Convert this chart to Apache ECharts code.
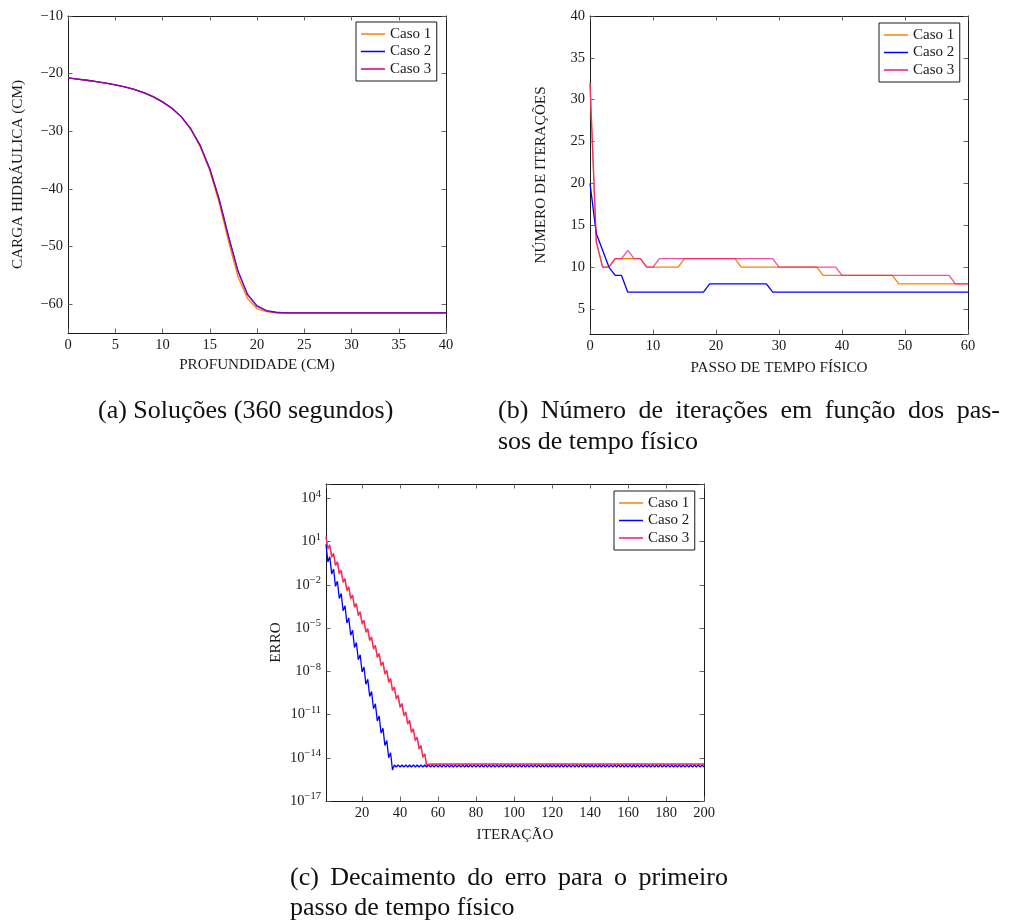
<!DOCTYPE html>
<html lang="pt">
<head>
<meta charset="utf-8">
<title>Resultados numéricos</title>
<script src="https://cdn.jsdelivr.net/npm/echarts@6.0.0/dist/echarts.min.js"></script>
<style>
  html, body { margin: 0; padding: 0; background: #ffffff; }
  #grafico { width: 1014px; height: 923px; }
</style>
</head>
<body>
<div id="grafico"></div>
<script>
// ---------- (a) Soluções: carga hidráulica ao longo da profundidade ----------
const profundidade = [0,1,2,3,4,5,6,7,8,9,10,11,12,13,14,15,16,17,18,19,20,
  21,22,23,24,25,26,27,28,29,30,31,32,33,34,35,36,37,38,39,40];
const cargaCaso1 = [-20.75,-20.95,-21.15,-21.4,-21.65,-21.95,-22.3,-22.75,-23.3,-24.0,
  -24.9,-26.0,-27.5,-29.7,-32.7,-36.8,-42.4,-49.2,-55.3,-59.0,
  -60.8,-61.3,-61.5,-61.5,-61.5,-61.5,-61.5,-61.5,-61.5,-61.5,
  -61.5,-61.5,-61.5,-61.5,-61.5,-61.5,-61.5,-61.5,-61.5,-61.5,
  -61.5];
const cargaCaso2 = [-20.75,-20.95,-21.15,-21.4,-21.65,-21.95,-22.3,-22.75,-23.3,-24.0,
  -24.9,-26.0,-27.5,-29.6,-32.5,-36.5,-41.8,-48.3,-54.3,-58.3,
  -60.3,-61.1,-61.4,-61.5,-61.5,-61.5,-61.5,-61.5,-61.5,-61.5,
  -61.5,-61.5,-61.5,-61.5,-61.5,-61.5,-61.5,-61.5,-61.5,-61.5,
  -61.5];
const cargaCaso3 = [-20.75,-20.95,-21.15,-21.4,-21.65,-21.95,-22.3,-22.75,-23.3,-24.0,
  -24.9,-26.0,-27.5,-29.6,-32.5,-36.5,-41.9,-48.4,-54.4,-58.4,
  -60.4,-61.15,-61.45,-61.5,-61.5,-61.5,-61.5,-61.5,-61.5,-61.5,
  -61.5,-61.5,-61.5,-61.5,-61.5,-61.5,-61.5,-61.5,-61.5,-61.5,
  -61.5];

// ---------- (b) Número de iterações por passo de tempo físico ----------
const passos = [0,1,2,3,4,5,6,7,8,9,10,11,12,13,14,15,16,17,18,19,20,
  21,22,23,24,25,26,27,28,29,30,31,32,33,34,35,36,37,38,39,40,
  41,42,43,44,45,46,47,48,49,50,51,52,53,54,55,56,57,58,59,60];
const iterCaso1 = [32,13,10,10,11,11,11,11,11,10,
  10,10,10,10,10,11,11,11,11,11,
  11,11,11,11,10,10,10,10,10,10,
  10,10,10,10,10,10,10,9,9,9,
  9,9,9,9,9,9,9,9,9,8,
  8,8,8,8,8,8,8,8,8,8,
  8];
const iterCaso2 = [20,14,12,10,9,9,7,7,7,7,
  7,7,7,7,7,7,7,7,7,8,
  8,8,8,8,8,8,8,8,8,7,
  7,7,7,7,7,7,7,7,7,7,
  7,7,7,7,7,7,7,7,7,7,
  7,7,7,7,7,7,7,7,7,7,
  7];
const iterCaso3 = [32,13,10,10,11,11,12,11,11,10,
  10,11,11,11,11,11,11,11,11,11,
  11,11,11,11,11,11,11,11,11,11,
  10,10,10,10,10,10,10,10,10,10,
  9,9,9,9,9,9,9,9,9,9,
  9,9,9,9,9,9,9,9,8,8,
  8];

// ---------- (c) Decaimento do erro no primeiro passo de tempo ----------
// expoentes (log10) do erro em cada iteração 1..200
const expErroCaso1 = [1.30,0.47,0.71,-0.11,0.13,-0.69,-0.45,-1.27,-1.03,-1.85,
  -1.61,-2.43,-2.18,-3.00,-2.76,-3.58,-3.34,-4.16,-3.92,-4.74,
  -4.50,-5.32,-5.08,-5.90,-5.66,-6.48,-6.24,-7.06,-6.82,-7.64,
  -7.40,-8.22,-7.97,-8.79,-8.55,-9.37,-9.13,-9.95,-9.71,-10.53,
  -10.29,-11.11,-10.87,-11.69,-11.45,-12.27,-12.03,-12.85,-12.61,-13.43,
  -13.19,-14.01,-13.77,-14.59,-14.42,-14.46,-14.42,-14.46,-14.42,-14.46,
  -14.42,-14.46,-14.42,-14.46,-14.42,-14.46,-14.42,-14.46,-14.42,-14.46,
  -14.42,-14.46,-14.42,-14.46,-14.42,-14.46,-14.42,-14.46,-14.42,-14.46,
  -14.42,-14.46,-14.42,-14.46,-14.42,-14.46,-14.42,-14.46,-14.42,-14.46,
  -14.42,-14.46,-14.42,-14.46,-14.42,-14.46,-14.42,-14.46,-14.42,-14.46,
  -14.42,-14.46,-14.42,-14.46,-14.42,-14.46,-14.42,-14.46,-14.42,-14.46,
  -14.42,-14.46,-14.42,-14.46,-14.42,-14.46,-14.42,-14.46,-14.42,-14.46,
  -14.42,-14.46,-14.42,-14.46,-14.42,-14.46,-14.42,-14.46,-14.42,-14.46,
  -14.42,-14.46,-14.42,-14.46,-14.42,-14.46,-14.42,-14.46,-14.42,-14.46,
  -14.42,-14.46,-14.42,-14.46,-14.42,-14.46,-14.42,-14.46,-14.42,-14.46,
  -14.42,-14.46,-14.42,-14.46,-14.42,-14.46,-14.42,-14.46,-14.42,-14.46,
  -14.42,-14.46,-14.42,-14.46,-14.42,-14.46,-14.42,-14.46,-14.42,-14.46,
  -14.42,-14.46,-14.42,-14.46,-14.42,-14.46,-14.42,-14.46,-14.42,-14.46,
  -14.42,-14.46,-14.42,-14.46,-14.42,-14.46,-14.42,-14.46,-14.42,-14.46,
  -14.42,-14.46,-14.42,-14.46,-14.42,-14.46,-14.42,-14.46,-14.42,-14.46];
const expErroCaso2 = [0.80,-0.40,-0.05,-1.25,-0.90,-2.10,-1.75,-2.95,-2.60,-3.80,
  -3.45,-4.65,-4.30,-5.50,-5.15,-6.35,-6.00,-7.20,-6.85,-8.05,
  -7.70,-8.90,-8.55,-9.75,-9.40,-10.60,-10.25,-11.45,-11.10,-12.30,
  -11.95,-13.15,-12.80,-14.00,-13.65,-14.85,-14.50,-14.64,-14.50,-14.64,
  -14.50,-14.64,-14.50,-14.64,-14.50,-14.64,-14.50,-14.64,-14.50,-14.64,
  -14.50,-14.64,-14.50,-14.64,-14.50,-14.64,-14.50,-14.64,-14.50,-14.64,
  -14.50,-14.64,-14.50,-14.64,-14.50,-14.64,-14.50,-14.64,-14.50,-14.64,
  -14.50,-14.64,-14.50,-14.64,-14.50,-14.64,-14.50,-14.64,-14.50,-14.64,
  -14.50,-14.64,-14.50,-14.64,-14.50,-14.64,-14.50,-14.64,-14.50,-14.64,
  -14.50,-14.64,-14.50,-14.64,-14.50,-14.64,-14.50,-14.64,-14.50,-14.64,
  -14.50,-14.64,-14.50,-14.64,-14.50,-14.64,-14.50,-14.64,-14.50,-14.64,
  -14.50,-14.64,-14.50,-14.64,-14.50,-14.64,-14.50,-14.64,-14.50,-14.64,
  -14.50,-14.64,-14.50,-14.64,-14.50,-14.64,-14.50,-14.64,-14.50,-14.64,
  -14.50,-14.64,-14.50,-14.64,-14.50,-14.64,-14.50,-14.64,-14.50,-14.64,
  -14.50,-14.64,-14.50,-14.64,-14.50,-14.64,-14.50,-14.64,-14.50,-14.64,
  -14.50,-14.64,-14.50,-14.64,-14.50,-14.64,-14.50,-14.64,-14.50,-14.64,
  -14.50,-14.64,-14.50,-14.64,-14.50,-14.64,-14.50,-14.64,-14.50,-14.64,
  -14.50,-14.64,-14.50,-14.64,-14.50,-14.64,-14.50,-14.64,-14.50,-14.64,
  -14.50,-14.64,-14.50,-14.64,-14.50,-14.64,-14.50,-14.64,-14.50,-14.64,
  -14.50,-14.64,-14.50,-14.64,-14.50,-14.64,-14.50,-14.64,-14.50,-14.64];
const expErroCaso3 = [1.35,0.55,0.77,-0.03,0.19,-0.61,-0.39,-1.19,-0.97,-1.77,
  -1.55,-2.35,-2.12,-2.92,-2.70,-3.50,-3.28,-4.08,-3.86,-4.66,
  -4.44,-5.24,-5.02,-5.82,-5.60,-6.40,-6.18,-6.98,-6.76,-7.56,
  -7.34,-8.14,-7.91,-8.71,-8.49,-9.29,-9.07,-9.87,-9.65,-10.45,
  -10.23,-11.03,-10.81,-11.61,-11.39,-12.19,-11.97,-12.77,-12.55,-13.35,
  -13.13,-13.93,-13.71,-14.51,-14.40,-14.44,-14.40,-14.44,-14.40,-14.44,
  -14.40,-14.44,-14.40,-14.44,-14.40,-14.44,-14.40,-14.44,-14.40,-14.44,
  -14.40,-14.44,-14.40,-14.44,-14.40,-14.44,-14.40,-14.44,-14.40,-14.44,
  -14.40,-14.44,-14.40,-14.44,-14.40,-14.44,-14.40,-14.44,-14.40,-14.44,
  -14.40,-14.44,-14.40,-14.44,-14.40,-14.44,-14.40,-14.44,-14.40,-14.44,
  -14.40,-14.44,-14.40,-14.44,-14.40,-14.44,-14.40,-14.44,-14.40,-14.44,
  -14.40,-14.44,-14.40,-14.44,-14.40,-14.44,-14.40,-14.44,-14.40,-14.44,
  -14.40,-14.44,-14.40,-14.44,-14.40,-14.44,-14.40,-14.44,-14.40,-14.44,
  -14.40,-14.44,-14.40,-14.44,-14.40,-14.44,-14.40,-14.44,-14.40,-14.44,
  -14.40,-14.44,-14.40,-14.44,-14.40,-14.44,-14.40,-14.44,-14.40,-14.44,
  -14.40,-14.44,-14.40,-14.44,-14.40,-14.44,-14.40,-14.44,-14.40,-14.44,
  -14.40,-14.44,-14.40,-14.44,-14.40,-14.44,-14.40,-14.44,-14.40,-14.44,
  -14.40,-14.44,-14.40,-14.44,-14.40,-14.44,-14.40,-14.44,-14.40,-14.44,
  -14.40,-14.44,-14.40,-14.44,-14.40,-14.44,-14.40,-14.44,-14.40,-14.44,
  -14.40,-14.44,-14.40,-14.44,-14.40,-14.44,-14.40,-14.44,-14.40,-14.44];
// número da iteração correspondente a cada posição dos vetores acima
const iteracoes = expErroCaso1.map((_, i) => i + 1);

const nomesCasos = ['Caso 1', 'Caso 2', 'Caso 3'];

// ---------- estilo ----------
const FONTE = '"Liberation Serif", "Times New Roman", serif';
const COR_TEXTO = '#1a1a1a';
const COR_MOLDURA = '#1a1a1a';
const COR_TICK = '#555555';
const LARANJA = '#ff8000';
const AZUL = '#0000ff';
const MAGENTA_A = '#cc0088';
const ROSA = '#f0148c';
const TAM_ROTULO = 14.5;
const TAM_NOME = 15.2;

function mesclar(base, extra) {
  const out = Object.assign({}, base);
  for (const k in extra) {
    const v = extra[k];
    if (v && typeof v === 'object' && !Array.isArray(v) && base[k] && typeof base[k] === 'object') {
      out[k] = Object.assign({}, base[k], v);
    } else {
      out[k] = v;
    }
  }
  return out;
}

function baseEixo(gridIndex, position, comRotulos) {
  return {
    type: 'value', gridIndex, position,
    axisLine: { show: true, onZero: false, lineStyle: { color: COR_MOLDURA, width: 1 } },
    axisTick: { show: true, inside: true, length: 4.5, lineStyle: { color: COR_TICK, width: 0.9 } },
    minorTick: { show: false },
    axisLabel: { show: comRotulos, fontFamily: FONTE, fontSize: TAM_ROTULO, color: COR_TEXTO, margin: 5 },
    splitLine: { show: false },
    nameLocation: 'middle',
    nameTextStyle: { fontFamily: FONTE, fontSize: TAM_NOME, color: COR_TEXTO }
  };
}

const comMenos = v => String(v).replace('-', '\u2212');

function potencia(v) {
  const e = Math.round(Math.log10(v));
  if (e > 4) return '';
  return '{b|10}{s|' + (e < 0 ? '\u2212' + (-e) : e) + '}';
}
const richPotencia = {
  b: { fontFamily: FONTE, fontSize: TAM_ROTULO, color: COR_TEXTO },
  s: { fontFamily: FONTE, fontSize: 10.5, color: COR_TEXTO, padding: [0, 0, 9, 0] }
};

const xAxis = [
  mesclar(baseEixo(0, 'bottom', true), { min: 0, max: 40, interval: 5, name: 'PROFUNDIDADE (CM)', nameGap: 25 }),
  mesclar(baseEixo(0, 'top', false), { min: 0, max: 40, interval: 5 }),
  mesclar(baseEixo(1, 'bottom', true), { min: 0, max: 60, interval: 10, name: 'PASSO DE TEMPO FÍSICO', nameGap: 27 }),
  mesclar(baseEixo(1, 'top', false), { min: 0, max: 60, interval: 10 }),
  mesclar(baseEixo(2, 'bottom', true), { min: 1, max: 200, splitNumber: 10, axisLabel: { showMinLabel: false }, name: 'ITERAÇÃO', nameGap: 27 }),
  mesclar(baseEixo(2, 'top', false), { min: 1, max: 200, splitNumber: 10 })
];

const yAxis = [
  mesclar(baseEixo(0, 'left', true), { min: -65, max: -10, splitNumber: 5, axisLabel: { showMinLabel: false, formatter: comMenos }, name: 'CARGA HIDRÁULICA (CM)', nameGap: 42 }),
  mesclar(baseEixo(0, 'right', false), { min: -65, max: -10, splitNumber: 5 }),
  mesclar(baseEixo(1, 'left', true), { min: 2, max: 40, splitNumber: 8, axisLabel: { showMinLabel: false }, name: 'NÚMERO DE ITERAÇÕES', nameGap: 41 }),
  mesclar(baseEixo(1, 'right', false), { min: 2, max: 40, splitNumber: 8 }),
  mesclar(baseEixo(2, 'left', true), { type: 'log', logBase: 10, min: 1e-17, max: 1e5, interval: 3, axisLabel: { formatter: potencia, rich: richPotencia }, name: 'ERRO', nameGap: 42 }),
  mesclar(baseEixo(2, 'right', false), { type: 'log', logBase: 10, min: 1e-17, max: 1e5, interval: 3 })
];

function linha(nome, xs, ys, idx, cor, opacidade) {
  return {
    name: nome, type: 'line', xAxisIndex: idx, yAxisIndex: idx,
    data: xs.map((x, i) => [x, ys[i]]),
    showSymbol: false, symbol: 'none', smooth: false, clip: true,
    lineStyle: { color: cor, width: 1.3, opacity: opacidade },
    itemStyle: { color: cor },
    emphasis: { disabled: true }
  };
}

const paraErro = exps => exps.map(e => Math.pow(10, e));

const series = [
  linha('Caso 1', profundidade, cargaCaso1, 0, LARANJA, 1),
  linha('Caso 2', profundidade, cargaCaso2, 0, AZUL, 1),
  linha('Caso 3', profundidade, cargaCaso3, 0, MAGENTA_A, 0.75),
  linha('Caso 1', passos, iterCaso1, 2, LARANJA, 1),
  linha('Caso 2', passos, iterCaso2, 2, AZUL, 1),
  linha('Caso 3', passos, iterCaso3, 2, ROSA, 0.75),
  linha('Caso 1', iteracoes, paraErro(expErroCaso1), 4, LARANJA, 1),
  linha('Caso 2', iteracoes, paraErro(expErroCaso2), 4, AZUL, 1),
  linha('Caso 3', iteracoes, paraErro(expErroCaso3), 4, ROSA, 0.85)
];

function legenda(left, top, cores) {
  return {
    orient: 'vertical', left, top,
    data: nomesCasos.map((n, i) => ({ name: n, itemStyle: { color: cores[i], opacity: 1 } })),
    icon: 'rect', itemWidth: 24, itemHeight: 1.5, itemGap: 2.5,
    padding: [4.5, 5.5, 4.5, 5],
    borderColor: '#1a1a1a', borderWidth: 1, borderRadius: 0, backgroundColor: '#ffffff',
    textStyle: { fontFamily: FONTE, fontSize: 15, color: COR_TEXTO },
    selectedMode: false, z: 10
  };
}

// subtítulos das figuras
const FONTE_SUB = 26;
const medidor = document.createElement('canvas').getContext('2d');
medidor.font = FONTE_SUB + 'px "Liberation Serif"';

function textoSub(texto, x, y) {
  return { type: 'text', x, y, silent: true,
    style: { text: texto, fontFamily: FONTE, fontSize: FONTE_SUB, fill: '#111111', align: 'left', verticalAlign: 'middle' } };
}
function linhaJustificada(texto, x0, x1, y) {
  const palavras = texto.split(' ');
  const larguras = palavras.map(p => medidor.measureText(p).width);
  const total = larguras.reduce((a, b) => a + b, 0);
  const folga = (x1 - x0 - total) / (palavras.length - 1);
  const els = [];
  let x = x0;
  palavras.forEach((p, i) => { els.push(textoSub(p, x, y)); x += larguras[i] + folga; });
  return els;
}

const graphic = [].concat(
  [textoSub('(a) Soluções (360 segundos)', 98, 411)],
  linhaJustificada('(b) Número de iterações em função dos pas-', 498, 1000, 411),
  [textoSub('sos de tempo físico', 498, 442)],
  linhaJustificada('(c) Decaimento do erro para o primeiro', 290, 728, 878),
  [textoSub('passo de tempo físico', 290, 908)]
);

const grafico = echarts.init(document.getElementById('grafico'), null, { renderer: 'canvas' });
grafico.setOption({
  animation: false,
  backgroundColor: '#ffffff',
  grid: [
    { left: 68, top: 16, width: 378, height: 317, outerBoundsMode: 'none' },
    { left: 590, top: 16, width: 378, height: 318, outerBoundsMode: 'none' },
    { left: 326, top: 484, width: 378, height: 317, outerBoundsMode: 'none' }
  ],
  xAxis, yAxis, series,
  legend: [
    legenda(356, 22, [LARANJA, AZUL, MAGENTA_A]),
    legenda(879, 23, [LARANJA, AZUL, ROSA]),
    legenda(614, 491, [LARANJA, AZUL, ROSA])
  ],
  graphic
});
</script>
</body>
</html>
